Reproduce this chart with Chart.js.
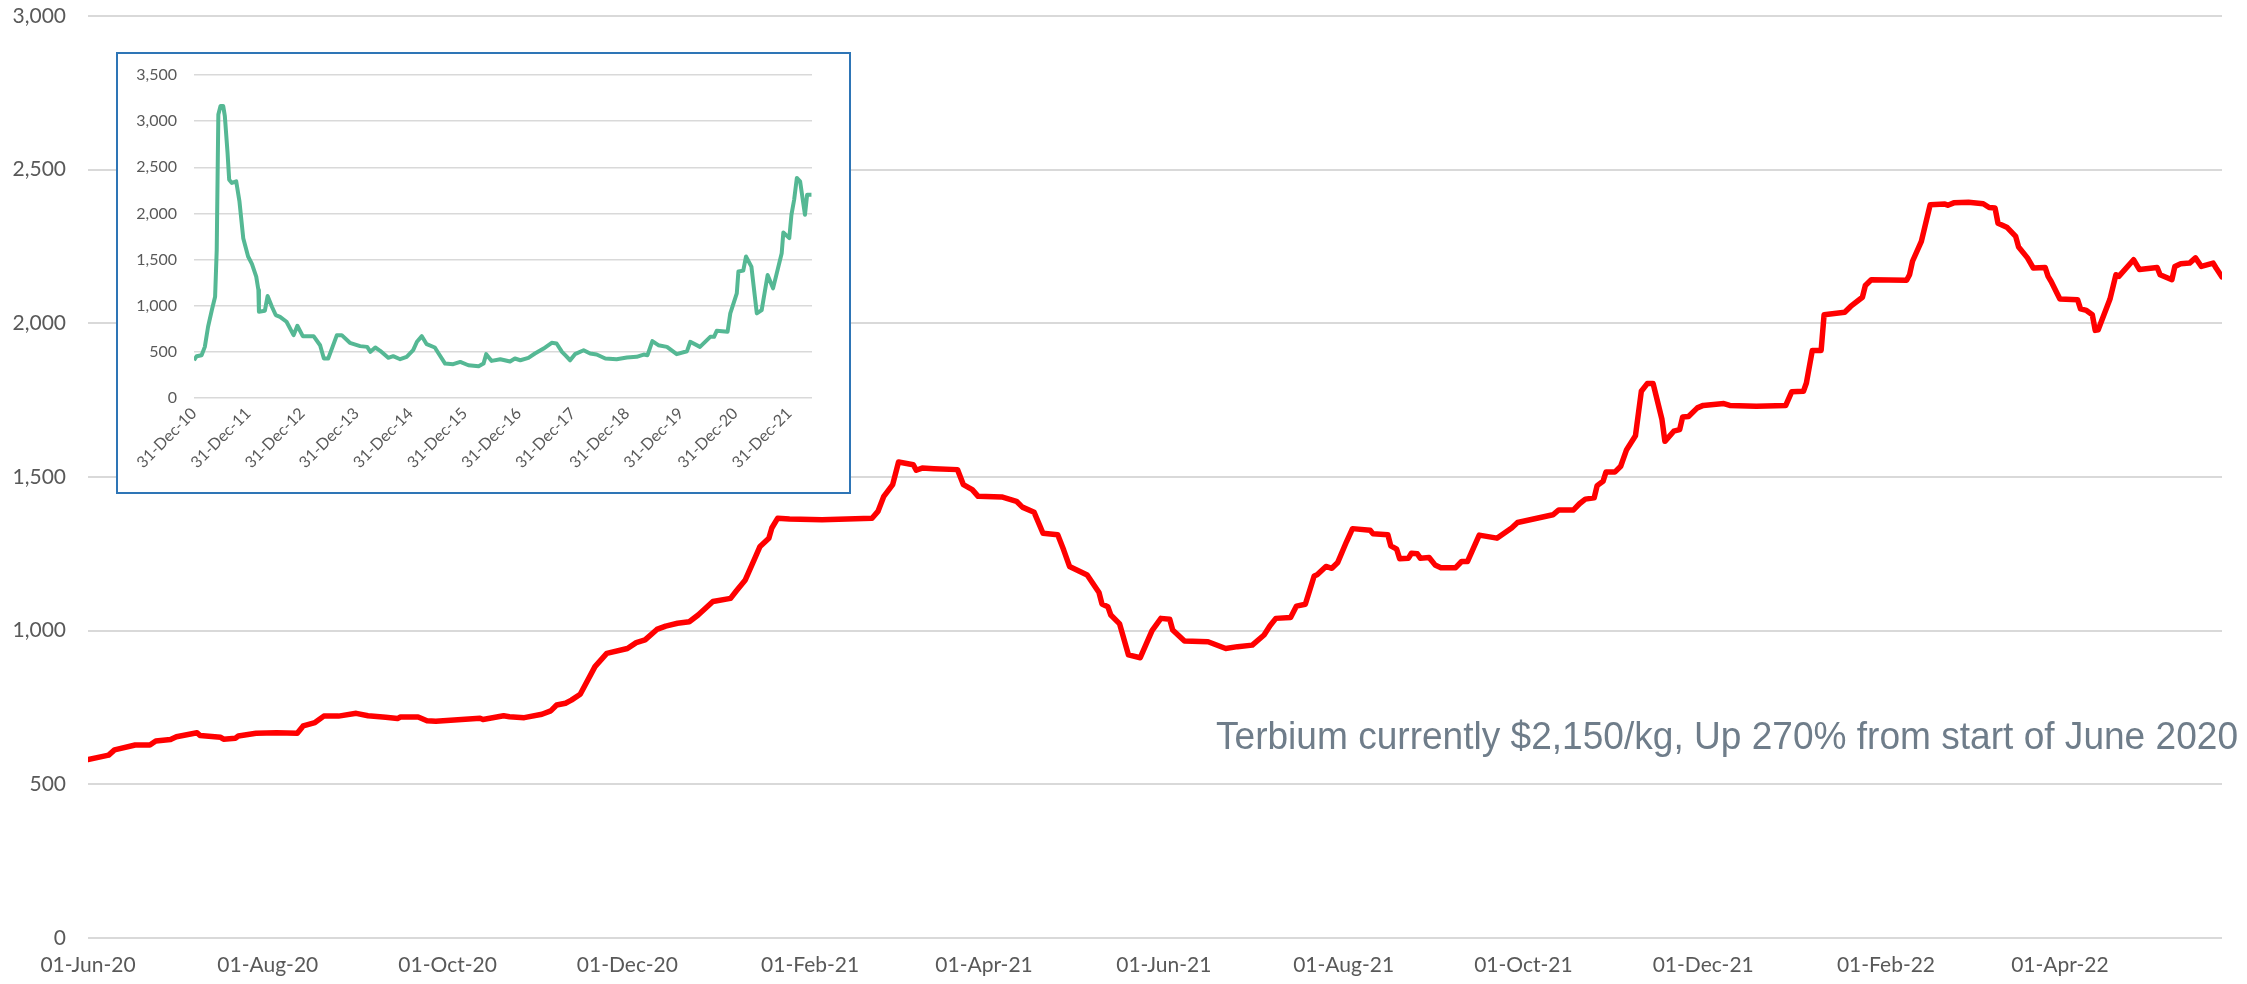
<!DOCTYPE html>
<html>
<head>
<meta charset="utf-8">
<title>Terbium price</title>
<script src="https://cdn.jsdelivr.net/npm/chart.js@4.4.0/dist/chart.umd.min.js"></script>
<style>
  html, body { margin: 0; padding: 0; background: #fff; }
  #wrap { position: relative; width: 2247px; height: 984px; overflow: hidden; }
  #main { position: absolute; left: 0; top: 0; }
  #insetBox {
    position: absolute; left: 116px; top: 52px; width: 735px; height: 442px;
    border: 2px solid #2e75b6; box-sizing: border-box; background: #fff;
  }
  #note {
    position: absolute; left: 1216px; top: 717px;
    font-family: "Liberation Sans Narrow", "Liberation Sans", Arial, sans-serif;
    font-size: 38px; line-height: 38px; color: #6f7d8a;
    white-space: nowrap; transform-origin: 0 0;
  }
</style>
</head>
<body>
<div id="wrap">
  <canvas id="main" width="2247" height="984"></canvas>
  <div id="insetBox"><canvas id="inset" width="731" height="438"></canvas></div>
  <div id="note">Terbium currently $2,150/kg, Up 270% from start of June 2020</div>
</div>
<script>
// main chart: terbium price, Jun 2020 - May 2022
const mainDates = [
  "2020-06-01","2020-06-08","2020-06-10","2020-06-17","2020-06-22","2020-06-24","2020-06-29",
  "2020-07-01","2020-07-08","2020-07-09","2020-07-16","2020-07-17","2020-07-21","2020-07-22","2020-07-28",
  "2020-08-04","2020-08-11","2020-08-13","2020-08-17","2020-08-20","2020-08-25","2020-08-31",
  "2020-09-04","2020-09-10","2020-09-14","2020-09-15","2020-09-21","2020-09-24","2020-09-27",
  "2020-10-12","2020-10-13","2020-10-20","2020-10-22","2020-10-27",
  "2020-11-02","2020-11-05","2020-11-07","2020-11-10","2020-11-12","2020-11-15","2020-11-20","2020-11-24",
  "2020-12-01","2020-12-04","2020-12-07","2020-12-11","2020-12-14","2020-12-18","2020-12-22","2020-12-25","2020-12-30",
  "2021-01-05","2021-01-07","2021-01-10","2021-01-13","2021-01-15","2021-01-18","2021-01-19","2021-01-21","2021-01-25",
  "2021-02-05","2021-02-22","2021-02-24","2021-02-26",
  "2021-03-01","2021-03-03","2021-03-08","2021-03-09","2021-03-11","2021-03-15","2021-03-23","2021-03-25","2021-03-28","2021-03-30",
  "2021-04-07","2021-04-12","2021-04-14","2021-04-18","2021-04-21","2021-04-26","2021-04-28","2021-04-30",
  "2021-05-06","2021-05-10","2021-05-11","2021-05-13","2021-05-14","2021-05-17","2021-05-20","2021-05-24","2021-05-28","2021-05-31",
  "2021-06-03","2021-06-04","2021-06-08","2021-06-16","2021-06-22","2021-06-26",
  "2021-07-01","2021-07-05","2021-07-07","2021-07-09","2021-07-14","2021-07-16","2021-07-19","2021-07-22","2021-07-23","2021-07-26","2021-07-28","2021-07-30",
  "2021-08-02","2021-08-04","2021-08-10","2021-08-11","2021-08-16","2021-08-17","2021-08-19","2021-08-20","2021-08-23","2021-08-24","2021-08-26","2021-08-27","2021-08-30",
  "2021-09-01","2021-09-03","2021-09-08","2021-09-10","2021-09-12","2021-09-14","2021-09-16","2021-09-22","2021-09-27","2021-09-29",
  "2021-10-11","2021-10-13","2021-10-18","2021-10-20","2021-10-22","2021-10-25","2021-10-26","2021-10-28","2021-10-29",
  "2021-11-01","2021-11-03","2021-11-05","2021-11-08","2021-11-10","2021-11-12","2021-11-14","2021-11-17","2021-11-18","2021-11-21","2021-11-23","2021-11-24","2021-11-26","2021-11-29",
  "2021-12-01","2021-12-08","2021-12-10","2021-12-19","2021-12-29","2021-12-31",
  "2022-01-04","2022-01-05","2022-01-07","2022-01-10","2022-01-11","2022-01-18","2022-01-20","2022-01-24","2022-01-25","2022-01-27",
  "2022-02-08","2022-02-09","2022-02-10","2022-02-13","2022-02-16","2022-02-21","2022-02-22","2022-02-24",
  "2022-03-01","2022-03-06","2022-03-08","2022-03-10","2022-03-11","2022-03-14","2022-03-17","2022-03-18","2022-03-21","2022-03-23","2022-03-27","2022-03-28","2022-03-29",
  "2022-04-01","2022-04-07","2022-04-08","2022-04-10","2022-04-12","2022-04-13","2022-04-14","2022-04-18","2022-04-20","2022-04-21","2022-04-26","2022-04-28",
  "2022-05-04","2022-05-05","2022-05-09","2022-05-10","2022-05-12","2022-05-15","2022-05-17","2022-05-19","2022-05-23","2022-05-24","2022-05-26"
];
const mainPrices = [
  581,595,612,628,628,641,646,
  655,668,659,653,647,650,657,666,
  668,666,690,701,722,722,731,
  723,718,714,719,719,707,705,
  715,711,723,720,717,
  728,739,758,764,774,793,883,926,
  942,961,970,1004,1015,1024,1029,1051,1095,
  1105,1130,1165,1230,1274,1301,1334,1366,1363,
  1361,1366,1388,1437,
  1475,1549,1540,1522,1529,1527,1524,1475,1459,1437,
  1435,1421,1402,1385,1317,1312,1263,1209,
  1181,1124,1087,1078,1051,1022,921,912,1000,1040,
  1037,1002,966,964,942,948,
  953,986,1016,1040,1043,1080,1086,1178,1182,1209,1203,1222,
  1290,1332,1327,1315,1312,1276,1265,1234,1236,1252,1250,1236,1238,
  1214,1205,1205,1225,1225,1268,1311,1301,1334,1352,
  1377,1393,1393,1413,1428,1432,1472,1486,1516,
  1516,1535,1589,1634,1779,1804,1804,1687,1616,1649,1654,1695,1697,1725,
  1733,1739,1733,1730,1733,1777,
  1779,1806,1912,1912,2028,2036,2055,2085,2123,2142,
  2140,2158,2202,2267,2386,2388,2384,2392,
  2394,2389,2377,2375,2326,2313,2283,2248,2213,2180,2182,2153,2137,
  2079,2077,2047,2042,2028,1977,1979,2079,2158,2153,2207,2175,
  2182,2158,2142,2185,2194,2196,2213,2185,2196,2180,2151
];
const mainStart = "2020-06-01";
const mainEnd = "2022-05-26";
const mainTickDates = ["2020-06-01","2020-08-01","2020-10-01","2020-12-01","2021-02-01","2021-04-01",
  "2021-06-01","2021-08-01","2021-10-01","2021-12-01","2022-02-01","2022-04-01"];
const mainTickLabels = ["01-Jun-20","01-Aug-20","01-Oct-20","01-Dec-20","01-Feb-21","01-Apr-21",
  "01-Jun-21","01-Aug-21","01-Oct-21","01-Dec-21","01-Feb-22","01-Apr-22"];

// inset: long history since end of 2010 (x in decimal years)
const insetYears = [
  2011.00,2011.05,2011.14,2011.20,2011.26,2011.33,2011.39,2011.42,2011.44,2011.45,2011.49,2011.54,2011.57,
  2011.62,2011.65,2011.70,2011.78,2011.84,2011.91,2012.00,2012.07,2012.15,2012.19,2012.20,2012.31,2012.36,
  2012.44,2012.51,2012.59,2012.71,2012.84,2012.91,2013.01,2013.21,2013.33,2013.40,2013.48,2013.56,2013.64,
  2013.73,2013.88,2014.07,2014.20,2014.26,2014.35,2014.44,2014.59,2014.68,2014.81,2014.93,2015.05,2015.12,
  2015.21,2015.30,2015.45,2015.52,2015.64,2015.79,2015.92,2016.07,2016.26,2016.35,2016.40,2016.50,2016.66,
  2016.84,2016.93,2017.03,2017.18,2017.30,2017.46,2017.61,2017.70,2017.80,2017.86,2017.95,2018.04,2018.20,
  2018.32,2018.44,2018.60,2018.81,2019.00,2019.18,2019.31,2019.38,2019.47,2019.58,2019.74,2019.92,2020.11,
  2020.17,2020.35,2020.54,2020.61,2020.66,2020.86,2020.91,2021.03,2021.06,2021.15,2021.20,2021.30,2021.40,
  2021.49,2021.60,2021.70,2021.86,2021.89,2022.00,2022.04,2022.09,2022.14,2022.20,2022.29,2022.33,2022.41
];
const insetPrices = [
  409,453,464,554,772,953,1098,1605,2601,3072,3163,3163,3054,
  2656,2366,2330,2348,2130,1732,1533,1453,1315,1170,935,946,1105,
  989,899,880,826,681,783,670,670,572,428,428,554,681,
  681,598,562,554,500,547,511,435,453,420,446,518,609,
  670,583,547,482,373,366,391,355,344,373,475,402,420,
  395,428,409,435,482,536,598,591,500,464,409,475,518,
  482,471,428,420,438,446,471,464,616,572,554,475,507,
  609,554,663,663,728,717,917,1134,1370,1380,1533,1424,917,
  953,1333,1188,1569,1793,1732,1985,2148,2384,2348,1985,2203,2203
];
const insetTickYears = [2011,2012,2013,2014,2015,2016,2017,2018,2019,2020,2021,2022];
const insetTickLabels = ["31-Dec-10","31-Dec-11","31-Dec-12","31-Dec-13","31-Dec-14","31-Dec-15",
  "31-Dec-16","31-Dec-17","31-Dec-18","31-Dec-19","31-Dec-20","31-Dec-21"];

function dayIndex(d) {
  return (Date.parse(d) - Date.parse(mainStart)) / 86400000;
}

const axisGrey = "#595959";
const gridGrey = "#d9d9d9";

// fixed axis width, and no extra room above/below for the tick labels
function fixYAxis(width) {
  return (scale) => {
    scale.width = width;
    scale.paddingTop = 0;
    scale.paddingBottom = 0;
  };
}

new Chart(document.getElementById("main"), {
  type: "line",
  data: {
    datasets: [{
      data: mainDates.map((d, i) => ({ x: dayIndex(d), y: mainPrices[i] })),
      borderColor: "#ff0000",
      borderWidth: 5.5,
      pointRadius: 0,
      tension: 0,
      fill: false,
      borderJoinStyle: "round",
      borderCapStyle: "round"
    }]
  },
  options: {
    responsive: false,
    animation: false,
    layout: { padding: { top: 16, right: 25, bottom: 0, left: 0 } },
    plugins: { legend: { display: false }, tooltip: { enabled: false } },
    scales: {
      x: {
        type: "linear",
        min: 0,
        max: dayIndex(mainEnd),
        grid: { display: false, drawTicks: false },
        border: { display: false },
        afterBuildTicks: (scale) => {
          scale.ticks = mainTickDates.map((d) => ({ value: dayIndex(d) }));
        },
        afterFit: (scale) => { scale.height = 46; },
        ticks: {
          autoSkip: false,
          maxRotation: 0,
          padding: 15,
          color: axisGrey,
          font: { family: "Lato", size: 21 },
          callback: (value, i) => mainTickLabels[i]
        }
      },
      y: {
        min: 0,
        max: 3000,
        grid: { color: gridGrey, lineWidth: 2, drawTicks: false },
        border: { display: false },
        afterFit: fixYAxis(88),
        ticks: {
          stepSize: 500,
          padding: 22,
          color: axisGrey,
          font: { family: "Lato", size: 21 },
          callback: (v) => v.toLocaleString("en-US")
        }
      }
    }
  }
});

new Chart(document.getElementById("inset"), {
  type: "line",
  data: {
    datasets: [{
      data: insetYears.map((y, i) => ({ x: y, y: insetPrices[i] })),
      borderColor: "#55b894",
      borderWidth: 4,
      pointRadius: 0,
      tension: 0,
      fill: false,
      borderJoinStyle: "round"
    }]
  },
  options: {
    responsive: false,
    animation: false,
    layout: { padding: { top: 21, right: 37, bottom: 0, left: 0 } },
    plugins: { legend: { display: false }, tooltip: { enabled: false } },
    scales: {
      x: {
        type: "linear",
        min: 2011,
        max: 2022.42,
        grid: { display: false, drawTicks: false },
        border: { display: false },
        afterBuildTicks: (scale) => {
          scale.ticks = insetTickYears.map((v) => ({ value: v }));
        },
        afterFit: (scale) => { scale.height = 94; },
        ticks: {
          autoSkip: false,
          minRotation: 45,
          maxRotation: 45,
          padding: 6,
          color: axisGrey,
          font: { family: "Lato", size: 16 },
          callback: (value, i) => insetTickLabels[i]
        }
      },
      y: {
        min: 0,
        max: 3500,
        grid: { color: gridGrey, lineWidth: 1.5, drawTicks: false },
        border: { display: false },
        afterFit: fixYAxis(76),
        ticks: {
          stepSize: 500,
          padding: 17,
          color: axisGrey,
          font: { family: "Lato", size: 16 },
          callback: (v) => v.toLocaleString("en-US")
        }
      }
    }
  }
});

// squeeze the note to the width it has in the picture
function fitNote() {
  const note = document.getElementById("note");
  note.style.transform = "none";
  const w = note.getBoundingClientRect().width;
  note.style.transform = "scaleX(" + (1022 / w) + ")";
}
fitNote();
if (document.fonts) document.fonts.ready.then(fitNote);
</script>
</body>
</html>
